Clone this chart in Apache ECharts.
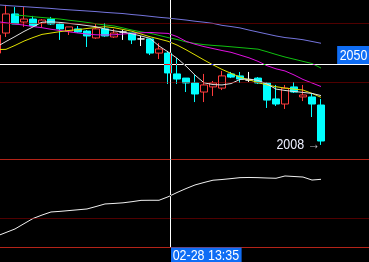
<!DOCTYPE html>
<html><head><meta charset="utf-8">
<script src="https://cdn.jsdelivr.net/npm/echarts@6/dist/echarts.min.js"></script>
<style>html,body{margin:0;padding:0;background:#000;}#c{width:369px;height:262px;}</style>
</head><body><div id="c"></div>
<script>
const categories = ['02-28 13:16','02-28 13:17','02-28 13:18','02-28 13:19','02-28 13:20','02-28 13:21','02-28 13:22','02-28 13:23','02-28 13:24','02-28 13:25','02-28 13:26','02-28 13:27','02-28 13:28','02-28 13:29','02-28 13:30','02-28 13:31','02-28 13:32','02-28 13:33','02-28 13:34','02-28 13:35','02-28 13:36','02-28 13:37','02-28 13:38','02-28 13:39','02-28 13:40','02-28 13:41','02-28 13:42','02-28 13:43','02-28 13:44','02-28 13:45','02-28 13:46','02-28 13:47','02-28 13:48','02-28 13:49','02-28 13:50','02-28 13:51','02-28 13:52','02-28 13:53','02-28 13:54','02-28 13:55','02-28 13:56','02-28 13:57'];

const opens  = [2054.7,2064.9,2074.6,2070.5,2072.0,2070.0,2072.0,2069.5,2065.9,2067.0,2065.9,2062.4,2067.0,2062.9,2065.4,2064.9,2061.9,2061.9,2054.7,2054.7,2044.1,2042.0,2039.5,2034.9,2037.5,2036.9,2044.1,2043.1,2041.0,2042.0,2039.5,2031.4,2028.8,2037.5,2032.4,2032.4,2028.3];
const closes = [2063.9,2074.6,2069.5,2072.0,2068.5,2071.5,2069.5,2067.0,2068.0,2065.4,2063.4,2067.0,2063.4,2064.9,2065.4,2061.4,2061.9,2054.7,2056.8,2044.6,2041.5,2039.5,2033.9,2038.5,2039.5,2043.1,2042.5,2041.5,2041.0,2039.5,2030.8,2028.8,2036.9,2034.9,2033.4,2028.8,2010.0];
const lows   = [2054.2,2062.9,2069.5,2068.0,2068.5,2067.5,2069.0,2061.4,2063.9,2065.0,2057.8,2061.9,2063.0,2062.4,2061.4,2059.3,2058.3,2053.7,2051.7,2039.0,2039.0,2034.9,2029.8,2029.8,2032.9,2035.9,2042.0,2039.5,2040.0,2039.0,2026.8,2027.8,2026.3,2034.4,2030.3,2022.2,2008.0];
const highs  = [2064.4,2079.2,2078.1,2078.1,2073.6,2072.0,2073.1,2070.0,2068.0,2068.5,2066.4,2069.5,2070.0,2067.0,2066.4,2064.9,2063.4,2061.9,2059.8,2055.8,2052.2,2042.0,2043.6,2044.1,2040.5,2045.6,2045.1,2045.1,2045.1,2042.5,2040.0,2038.5,2038.5,2040.0,2038.5,2034.4,2031.4];

const maWhite   = [2058.0,2060.6,2063.1,2065.7,2068.0,2070.4,2070.6,2070.3,2069.8,2069.3,2068.7,2068.1,2066.9,2066.0,2065.4,2064.5,2063.4,2062.2,2058.3,2055.3,2052.1,2048.1,2043.5,2039.6,2038.7,2038.5,2039.2,2041.3,2041.5,2040.8,2039.0,2036.4,2035.7,2035.2,2034.7,2034.2,2033.1];
const maYellow  = [2056.5,2056.6,2058.6,2060.8,2062.6,2064.2,2064.9,2065.6,2066.2,2066.6,2067.2,2067.7,2068.1,2067.6,2066.7,2065.8,2064.4,2063.0,2061.9,2060.7,2058.8,2056.4,2053.8,2051.2,2048.7,2046.4,2044.4,2042.5,2041.1,2039.7,2038.5,2037.6,2036.9,2036.4,2035.9,2034.2,2032.2];
const maMagenta = [2070.7,2070.1,2069.5,2068.9,2068.2,2067.6,2066.8,2066.2,2065.5,2064.9,2064.4,2064.0,2063.9,2064.0,2064.4,2064.7,2065.0,2065.2,2064.9,2064.7,2063.1,2060.7,2059.2,2058.0,2057.0,2056.0,2055.1,2053.7,2052.3,2050.5,2048.3,2046.7,2045.6,2043.6,2041.3,2039.5,2037.7];
const maGreen   = ['-','-',2074.1,2073.7,2073.2,2072.8,2072.4,2072.0,2071.4,2070.9,2070.3,2069.6,2069.0,2068.5,2067.5,2066.4,2065.5,2064.8,2063.7,2062.6,2061.6,2060.4,2059.6,2059.0,2058.6,2058.3,2057.9,2057.5,2057.1,2056.7,2055.4,2054.0,2052.7,2051.6,2050.5,2049.4,2047.1];
const maBlue    = [2079.3,2078.9,2078.6,2078.3,2078.0,2077.7,2077.4,2077.0,2076.7,2076.4,2076.1,2075.8,2075.4,2075.1,2074.8,2074.3,2073.9,2073.4,2072.9,2072.5,2072.0,2071.5,2070.9,2070.4,2069.8,2068.8,2068.2,2067.5,2066.4,2065.4,2064.4,2063.4,2062.6,2062.1,2061.5,2060.6,2059.7];

const indicator = [12.5,16.5,20.5,26.5,32.4,36.3,39.8,40.5,41.4,42.3,43.2,46.0,48.9,49.5,50.2,51.5,53.0,53.1,53.1,57.0,61.9,66.4,70.5,73.3,75.9,76.7,77.7,78.8,79.0,78.8,78.4,78.1,80.7,80.1,79.5,76.1,76.9];

const priceGridLevels = [2070, 2040];
const indicatorGridLevel = 33;
const crossIndex = 19, crossFrac = 0.2;
const crossPrice = 2049.15, crossPriceText = '2050';
const lowMarkValue = 2008, lowMarkIndex = 36;

const FONT = "'Liberation Sans',Arial,sans-serif";
const NARROW = 0.83;
const candles = opens.map((o, i) => [o, closes[i], lows[i], highs[i]]);

const chart = echarts.init(document.getElementById('c'), null, {renderer: 'canvas'});
const hiddenAxis = {axisTick:{show:false}, axisLabel:{show:false}, splitLine:{show:false}};
const xAx = (g) => Object.assign({type:'category', gridIndex:g, data:categories, boundaryGap:true,
  axisLine:{show:true, onZero:false, lineStyle:{color:'#b42318', width:1}}}, hiddenAxis);
const yAx = (g, mn, mx) => Object.assign({type:'value', gridIndex:g, min:mn, max:mx, axisLine:{show:false}}, hiddenAxis);
const maLine = (name, data, color) => ({type:'line', name, data, xAxisIndex:0, yAxisIndex:0, symbol:'none',
  lineStyle:{color, width:1}, silent:true, z:3});

chart.setOption({
  backgroundColor: '#000',
  animation: false,
  grid: [
    {left: -7.5, top: 0, width: 378, height: 159, outerBoundsMode: 'none', containLabel: false},
    {left: -7.5, top: 159, width: 378, height: 88, outerBoundsMode: 'none', containLabel: false}
  ],
  xAxis: [xAx(0), xAx(1)],
  yAxis: [yAx(0, 2000.85, 2081.69), yAx(1, 0, 100)],
  series: [
    {type:'candlestick', xAxisIndex:0, yAxisIndex:0, data:candles, barWidth:7, silent:true, z:2,
     itemStyle:{color:'#000', color0:'#00ffff', borderColor:'#ff3c3c', borderColor0:'#00ffff', borderColorDoji:'#ffffff', borderWidth:1},
     markLine:{silent:true, symbol:['none','none'], label:{show:false},
       lineStyle:{color:'#a00000', type:'dotted', width:1},
       data: priceGridLevels.map(v => ({yAxis:v}))}
    },
    maLine('blue', maBlue, '#7474dc'),
    maLine('green', maGreen, '#10c010'),
    maLine('magenta', maMagenta, '#e010e0'),
    maLine('yellow', maYellow, '#e0e000'),
    maLine('white', maWhite, '#e0e0e0'),
    {type:'line', xAxisIndex:1, yAxisIndex:1, data:indicator, symbol:'none', silent:true,
     lineStyle:{color:'#f0f0f0', width:1},
     markLine:{silent:true, symbol:['none','none'], label:{show:false},
       lineStyle:{color:'#a00000', type:'dotted', width:1},
       data:[{yAxis:indicatorGridLevel}]}}
  ]
});

const x0 = chart.convertToPixel({xAxisIndex:0}, crossIndex);
const x1 = chart.convertToPixel({xAxisIndex:0}, crossIndex + 1);
const cx = Math.round(x0 + crossFrac * (x1 - x0)) + 0.5;
const cy = Math.round(chart.convertToPixel({yAxisIndex:0}, crossPrice)) + 0.5;
const subBottom = Math.round(chart.convertToPixel({yAxisIndex:1}, 0));
const lowPt = chart.convertToPixel({gridIndex:0}, [lowMarkIndex, lowMarkValue]);
const W = chart.getWidth();

chart.setOption({
  graphic: [
    {type:'line', silent:true, z:100, shape:{x1:cx, y1:0, x2:cx, y2:subBottom},
     style:{stroke:'#ffffff', lineWidth:1, blend:'difference'}},
    {type:'line', silent:true, z:100, shape:{x1:0, y1:cy, x2:W, y2:cy},
     style:{stroke:'#ffffff', lineWidth:1, blend:'difference'}},
    {type:'text', silent:true, z:110, x:W, y:cy - 0.5, scaleX:NARROW,
     style:{text:crossPriceText, fill:'#ffffff', font:'15px ' + FONT, backgroundColor:'#0f6df5',
       padding:[2,2,1,3], align:'right', verticalAlign:'bottom'}},
    {type:'text', silent:true, z:110, x:cx + 0.5, y:subBottom + 0.5, scaleX:NARROW,
     style:{text:categories[crossIndex], fill:'#ffffff', font:'15px ' + FONT, backgroundColor:'#0f6df5',
       padding:[1,3,2,2], align:'left', verticalAlign:'top'}},
    {type:'text', silent:true, z:110, x:lowPt[0] - 1, y:lowPt[1], scaleX:NARROW,
     style:{text:'{a|' + lowMarkValue + '} {b|→}', font:'15px ' + FONT, align:'right', verticalAlign:'middle',
       rich:{a:{fill:'#eef0ff', font:'15px ' + FONT}, b:{fill:'#b8b8c0', font:'15px ' + FONT}}}}
  ]
});
</script></body></html>
